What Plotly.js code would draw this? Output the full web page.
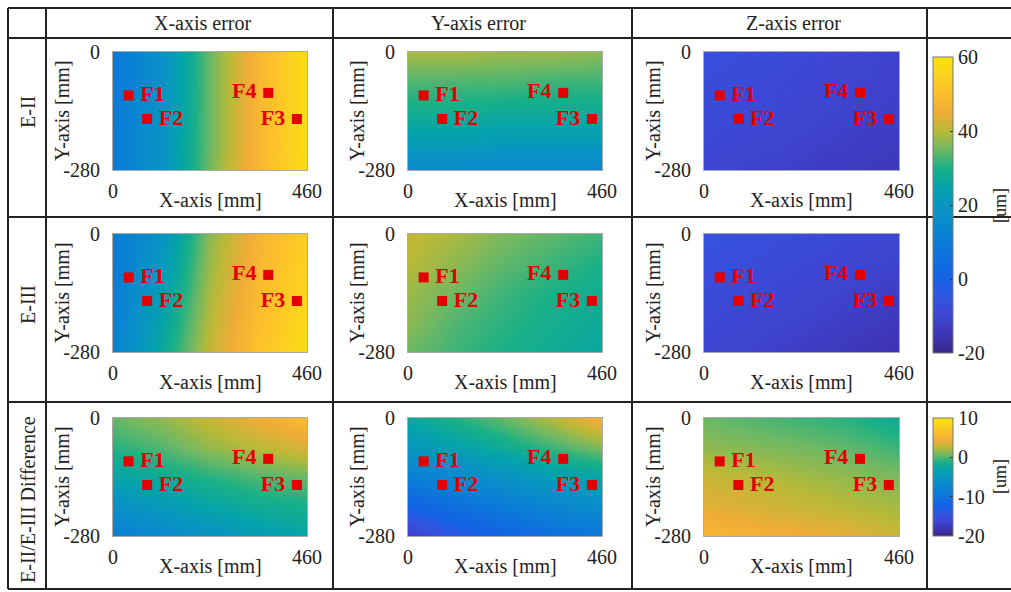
<!DOCTYPE html>
<html>
<head>
<meta charset="utf-8">
<script src="https://cdn.plot.ly/plotly-3.0.1.min.js"></script>
<style>
  html, body { margin: 0; padding: 0; background: #fff; }
  #chart { width: 1011px; height: 592px; }
</style>
</head>
<body>
<div id="chart"></div>
<script>
// ---------------- DATA ----------------
const colHeaders = ['X-axis error', 'Y-axis error', 'Z-axis error'];
const rowLabels = ['E-II', 'E-III', 'E-II/E-III Difference'];
const gridX = [0, 115, 230, 345, 460];          // mm
const gridY = [0, -70, -140, -210, -280];       // mm, listed top -> bottom
const xTicks = [0, 460];
const yTicks = [0, -280];
const cbTicksMain = [-20, 0, 20, 40, 60];
const cbTicksDiff = [-20, -10, 0, 10];
const cbUnit = '[um]';

// error fields [um], rows follow gridY (top -> bottom), columns follow gridX
const EII_X = [
  [8, 18, 35, 48, 58],
  [8, 18, 35, 48, 58],
  [8.5, 18.5, 35, 48, 58],
  [9, 19, 35, 48, 58],
  [9, 19, 35.5, 48.5, 58]
];
const EII_Y = [
  [39, 39, 38, 38, 37],
  [33, 33, 33, 32, 32],
  [29, 29, 28, 28, 28],
  [23, 23, 22, 22, 22],
  [15, 15, 14, 14, 14]
];
const EII_Z = [
  [-7, -8, -9, -10, -11],
  [-8, -8.5, -9.5, -10.5, -11.5],
  [-8.5, -9, -10, -11, -12],
  [-9, -10, -11, -12, -13],
  [-10, -11, -12, -13, -14]
];
const EIII_X = [
  [9, 19, 37, 47, 54],
  [9, 21, 38, 48, 55],
  [10, 23, 39, 49, 56],
  [11, 25, 40, 50, 57],
  [12, 27, 41, 51, 58]
];
const EIII_Y = [
  [41, 39, 36, 34, 32],
  [40, 37, 34, 32, 30],
  [38, 35, 32, 30, 28.5],
  [37, 33, 31, 29, 27.5],
  [35, 32, 30, 28, 26]
];
const EIII_Z = [
  [-6, -7, -8, -9, -10],
  [-7, -8, -9, -10, -11],
  [-8, -9, -10, -11, -12.5],
  [-9, -10, -11, -12.5, -14],
  [-10, -11, -12.5, -14, -15.5]
];
const DIFF_X = [
  [0.5, 1.5, 3, 4.5, 6],
  [-1, 0, 1.5, 2.5, 3.5],
  [-3, -2, -1, 0, 0.5],
  [-6, -4.5, -3, -2, -1.5],
  [-8.5, -7, -5.5, -4, -3]
];
const DIFF_Y = [
  [-2.5, -1, 0.5, 2.5, 5],
  [-5, -3.5, -2, -0.5, 1],
  [-8.5, -7, -5.5, -4, -3],
  [-12.5, -10.5, -9, -7.5, -6.5],
  [-17, -14, -12, -10.5, -9.5]
];
const DIFF_Z = [
  [0.5, 0, -0.5, -1, -2],
  [1.5, 1.2, 0.8, 0.3, -0.5],
  [3, 2.5, 2, 1.5, 1],
  [4, 3.5, 3, 2.5, 2],
  [5.5, 5, 4.5, 4, 3]
];

// measurement points
const fLabels = ['F1', 'F2', 'F3', 'F4'];
const fX = [37, 81, 436, 368];
const fY = [-103, -159, -159, -97];

// ---------------- STYLE ----------------
const W = 1011, H = 592;
const FONT = 'Liberation Serif, Times New Roman, serif';
const TXT = '#222';
const RED = 'rgb(228,0,0)';
const colPx = [[113, 307], [408, 602], [704, 899]];
const rowPx = [[52, 170], [234, 352], [418, 536]];
const headerX = [203, 478, 793];
const rowLabelY = [112, 305, 500];
const fPos = ['middle right', 'middle right', 'middle left', 'middle left'];
const GAP = '\u2009';
const fText = fLabels.map((t, i) => fPos[i].endsWith('right') ? GAP + t : t + GAP);

const PARULA = [
  [0.0, 'rgb(55,40,138)'],
  [0.0625, 'rgb(62,52,180)'],
  [0.125, 'rgb(62,70,210)'],
  [0.1875, 'rgb(50,85,225)'],
  [0.25, 'rgb(20,98,228)'],
  [0.3125, 'rgb(15,110,222)'],
  [0.375, 'rgb(10,125,215)'],
  [0.4375, 'rgb(10,138,205)'],
  [0.5, 'rgb(8,150,192)'],
  [0.5625, 'rgb(5,163,170)'],
  [0.625, 'rgb(25,176,135)'],
  [0.6875, 'rgb(110,184,100)'],
  [0.75, 'rgb(185,185,55)'],
  [0.8125, 'rgb(240,172,55)'],
  [0.875, 'rgb(252,190,45)'],
  [0.9375, 'rgb(252,210,30)'],
  [1.0, 'rgb(250,228,12)']
];

const panels = [
  [EII_X, EII_Y, EII_Z],
  [EIII_X, EIII_Y, EIII_Z],
  [DIFF_X, DIFF_Y, DIFF_Z]
];

const px2x = p => p / W;
const px2y = p => 1 - p / H;

const data = [];
const layout = {
  width: W, height: H,
  margin: {l: 0, r: 0, t: 0, b: 0},
  paper_bgcolor: '#fff',
  plot_bgcolor: '#fff',
  showlegend: false,
  font: {family: FONT, size: 20, color: TXT},
  annotations: [],
  shapes: [],
  coloraxis: {
    cmin: -20, cmax: 60, colorscale: PARULA,
    colorbar: {
      x: px2x(933), xanchor: 'left', xpad: 0, ypad: 0,
      y: px2y(57), yanchor: 'top',
      len: (353 - 57) / H, lenmode: 'fraction',
      thickness: 20, thicknessmode: 'pixels',
      outlinewidth: 1, outlinecolor: '#777',
      tickvals: cbTicksMain, ticktext: cbTicksMain.map(String),
      ticks: 'inside', ticklen: 3, tickcolor: '#333',
      tickfont: {family: FONT, size: 20, color: TXT}
    }
  },
  coloraxis2: {
    cmin: -20, cmax: 10, colorscale: PARULA,
    colorbar: {
      x: px2x(933), xanchor: 'left', xpad: 0, ypad: 0,
      y: px2y(418), yanchor: 'top',
      len: (536 - 418) / H, lenmode: 'fraction',
      thickness: 20, thicknessmode: 'pixels',
      outlinewidth: 1, outlinecolor: '#777',
      tickvals: cbTicksDiff, ticktext: cbTicksDiff.map(String),
      ticks: 'inside', ticklen: 3, tickcolor: '#333',
      tickfont: {family: FONT, size: 20, color: TXT}
    }
  }
};

const yAsc = gridY.slice().reverse();

for (let r = 0; r < 3; r++) {
  for (let c = 0; c < 3; c++) {
    const k = r * 3 + c + 1;
    const xa = 'xaxis' + (k > 1 ? k : '');
    const ya = 'yaxis' + (k > 1 ? k : '');
    const xr = 'x' + (k > 1 ? k : '');
    const yr = 'y' + (k > 1 ? k : '');
    layout[xa] = {
      domain: [px2x(colPx[c][0]), px2x(colPx[c][1])],
      anchor: yr, range: [0, 460],
      tickvals: xTicks, ticktext: xTicks.map(String),
      ticks: 'outside', ticklen: 3, tickcolor: 'rgba(0,0,0,0)',
      showgrid: false, zeroline: false,
      showline: true, mirror: true, linecolor: '#aaa', linewidth: 1,
      tickfont: {family: FONT, size: 20, color: TXT},
      fixedrange: true
    };
    layout[ya] = {
      domain: [px2y(rowPx[r][1]), px2y(rowPx[r][0])],
      anchor: xr, range: [-280, 0],
      tickvals: yTicks, ticktext: yTicks.map(String),
      ticks: 'outside', ticklen: 8, tickcolor: 'rgba(0,0,0,0)',
      showgrid: false, zeroline: false,
      showline: true, mirror: true, linecolor: '#aaa', linewidth: 1,
      tickfont: {family: FONT, size: 20, color: TXT},
      fixedrange: true
    };
    data.push({
      type: 'heatmap',
      x: gridX, y: yAsc,
      z: panels[r][c].slice().reverse(),
      zsmooth: 'best',
      coloraxis: r < 2 ? 'coloraxis' : 'coloraxis2',
      xaxis: xr, yaxis: yr,
      hoverinfo: 'skip'
    });
    data.push({
      type: 'scatter', mode: 'markers+text',
      x: fX, y: fY, text: fText,
      textposition: fPos,
      textfont: {family: FONT, size: 22, color: RED, weight: 'bold'},
      marker: {symbol: 'square', size: 10, color: RED, line: {width: 0}},
      cliponaxis: false,
      xaxis: xr, yaxis: yr,
      hoverinfo: 'skip'
    });
    // axis titles
    layout.annotations.push({
      xref: 'paper', yref: 'paper',
      x: px2x((colPx[c][0] + colPx[c][1]) / 2), y: px2y(rowPx[r][1] + 30),
      xanchor: 'center', yanchor: 'middle', showarrow: false,
      text: 'X-axis [mm]', font: {family: FONT, size: 20, color: TXT}
    });
    layout.annotations.push({
      xref: 'paper', yref: 'paper',
      x: px2x(colPx[c][0] - 51), y: px2y((rowPx[r][0] + rowPx[r][1]) / 2),
      xanchor: 'center', yanchor: 'middle', showarrow: false, textangle: -90,
      text: 'Y-axis [mm]', font: {family: FONT, size: 20, color: TXT}
    });
  }
}

// column headers and row labels
colHeaders.forEach((t, i) => layout.annotations.push({
  xref: 'paper', yref: 'paper', x: px2x(headerX[i]), y: px2y(23),
  xanchor: 'center', yanchor: 'middle', showarrow: false,
  text: t, font: {family: FONT, size: 20, color: TXT}
}));
rowLabels.forEach((t, i) => layout.annotations.push({
  xref: 'paper', yref: 'paper', x: px2x(28), y: px2y(rowLabelY[i]),
  xanchor: 'center', yanchor: 'middle', showarrow: false, textangle: -90,
  text: t, font: {family: FONT, size: 20, color: TXT}
}));
// colorbar unit labels
[206, 477].forEach(yy => layout.annotations.push({
  xref: 'paper', yref: 'paper', x: px2x(1000), y: px2y(yy),
  xanchor: 'center', yanchor: 'middle', showarrow: false, textangle: -90,
  text: cbUnit, font: {family: FONT, size: 18, color: TXT}
}));

// table grid lines
const vLines = [8, 46, 333, 632, 927];
const hLines = [8, 38, 217, 402, 589];
vLines.forEach(v => layout.shapes.push({
  type: 'line', xref: 'paper', yref: 'paper',
  x0: px2x(v), x1: px2x(v), y0: px2y(8), y1: px2y(589),
  line: {color: '#222', width: 2}
}));
hLines.forEach(h => layout.shapes.push({
  type: 'line', xref: 'paper', yref: 'paper',
  x0: px2x(8), x1: 1, y0: px2y(h), y1: px2y(h),
  line: {color: '#222', width: 2}
}));

Plotly.newPlot('chart', data, layout, {staticPlot: true, displayModeBar: false});
</script>
</body>
</html>
